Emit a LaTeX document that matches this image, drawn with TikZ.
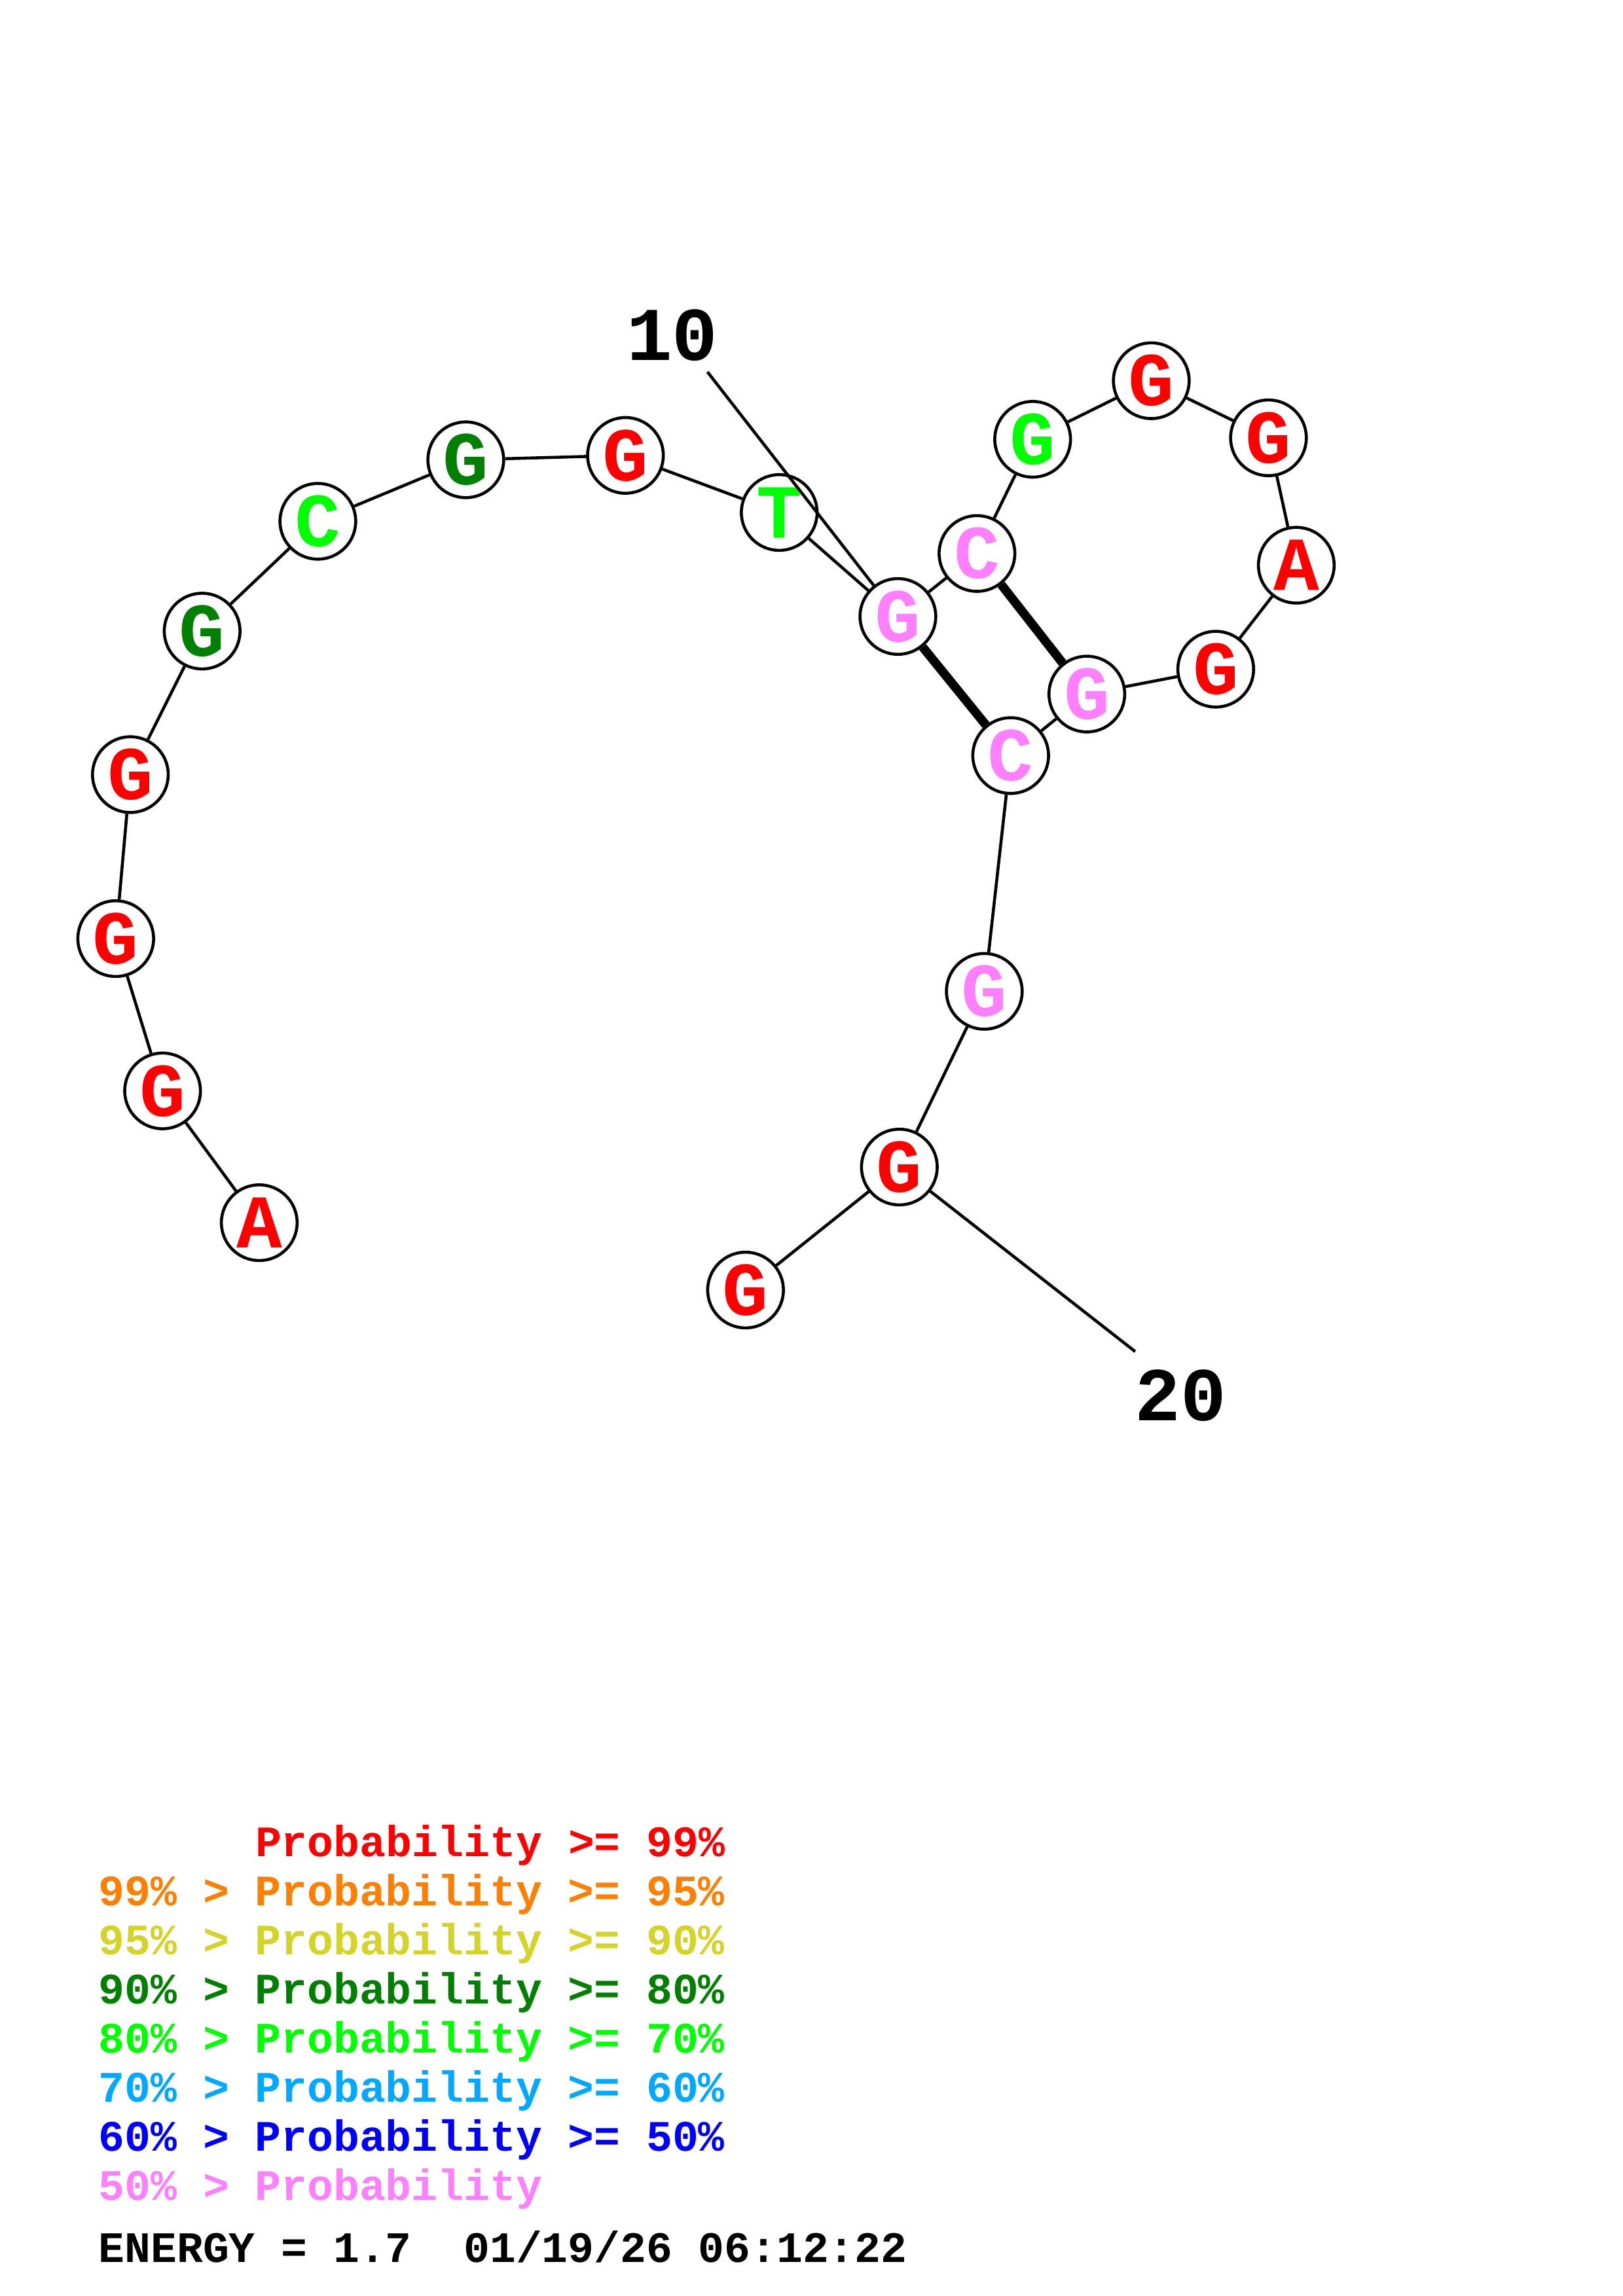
\documentclass[tikz,border=0pt]{standalone}
\usepackage{fontspec}
\setmonofont{Liberation Mono}

\definecolor{pA}{RGB}{255,0,0}
\definecolor{pB}{RGB}{255,128,0}
\definecolor{pC}{RGB}{212,212,40}
\definecolor{pD}{RGB}{0,128,0}
\definecolor{pE}{RGB}{0,255,0}
\definecolor{pF}{RGB}{0,168,255}
\definecolor{pG}{RGB}{0,0,255}
\definecolor{pH}{RGB}{255,128,255}

\tikzset{
	base/.style={circle,draw,line width=1.1pt,fill=white,minimum size=0.98cm,inner sep=0pt,
		font=\ttfamily\bfseries\fontsize{28}{28}\selectfont},
	bond/.style={line width=1.1pt},
	pairbond/.style={line width=3.3pt},
	numlab/.style={inner sep=0pt,font=\ttfamily\bfseries\fontsize{28}{28}\selectfont},
	legend/.style={anchor=base west,inner sep=0pt,font=\ttfamily\bfseries\fontsize{16}{16}\selectfont},
}

\begin{document}
\begin{tikzpicture}[x=0.018953cm,y=-0.018953cm]
\useasboundingbox (0,0) rectangle (1108,1568);

% BASES
\node[base,text=pA] (n1) at (177,835) {A};
\node[base,text=pA] (n2) at (111,745) {G};
\node[base,text=pA] (n3) at (79,641) {G};
\node[base,text=pA] (n4) at (89,529) {G};
\node[base,text=pD] (n5) at (138,431) {G};
\node[base,text=pE] (n6) at (217,356) {C};
\node[base,text=pD] (n7) at (318,314) {G};
\node[base,text=pA] (n8) at (427,311) {G};
\node[base,text=pE] (n9) at (532,350) {T};
\node[base,text=pH] (n10) at (613,421) {G};
\node[base,text=pH] (n11) at (667,378) {C};
\node[base,text=pE] (n12) at (705,300) {G};
\node[base,text=pA] (n13) at (786,260) {G};
\node[base,text=pA] (n14) at (866,299) {G};
\node[base,text=pA] (n15) at (885,386) {A};
\node[base,text=pA] (n16) at (830,457) {G};
\node[base,text=pH] (n17) at (742,474) {G};
\node[base,text=pH] (n18) at (690,516) {C};
\node[base,text=pH] (n19) at (672,677) {G};
\node[base,text=pA] (n20) at (614,797) {G};
\node[base,text=pA] (n21) at (509,881) {G};

% BACKBONE
\foreach \i [evaluate=\i as \j using int(\i+1)] in {1,...,20}
	\draw[bond] (n\i) -- (n\j);

% PAIRS
\draw[pairbond] (n10) -- (n18);
\draw[pairbond] (n11) -- (n17);

% NUMBERS
\node[numlab] (l10) at (459,229) {10};
\coordinate (t10) at (483,254);
\draw[bond] (t10) -- (n10);
\node[numlab] (l20) at (806,953) {20};
\coordinate (t20) at (775,923);
\draw[bond] (n20) -- (t20);

% LEGEND
\node[legend,text=pA] (g1) at (174,1268) {Probability >= 99\%};
\node[legend,text=pB] (g2) at (67,1301.5) {99\% > Probability >= 95\%};
\node[legend,text=pC] (g3) at (67,1335) {95\% > Probability >= 90\%};
\node[legend,text=pD] (g4) at (67,1368.5) {90\% > Probability >= 80\%};
\node[legend,text=pE] (g5) at (67,1402) {80\% > Probability >= 70\%};
\node[legend,text=pF] (g6) at (67,1435.5) {70\% > Probability >= 60\%};
\node[legend,text=pG] (g7) at (67,1469) {60\% > Probability >= 50\%};
\node[legend,text=pH] (g8) at (67,1502.5) {50\% > Probability};
\node[legend] (en) at (67,1545) {ENERGY = 1.7\ \ 01/19/26 06:12:22};

\end{tikzpicture}
\end{document}
